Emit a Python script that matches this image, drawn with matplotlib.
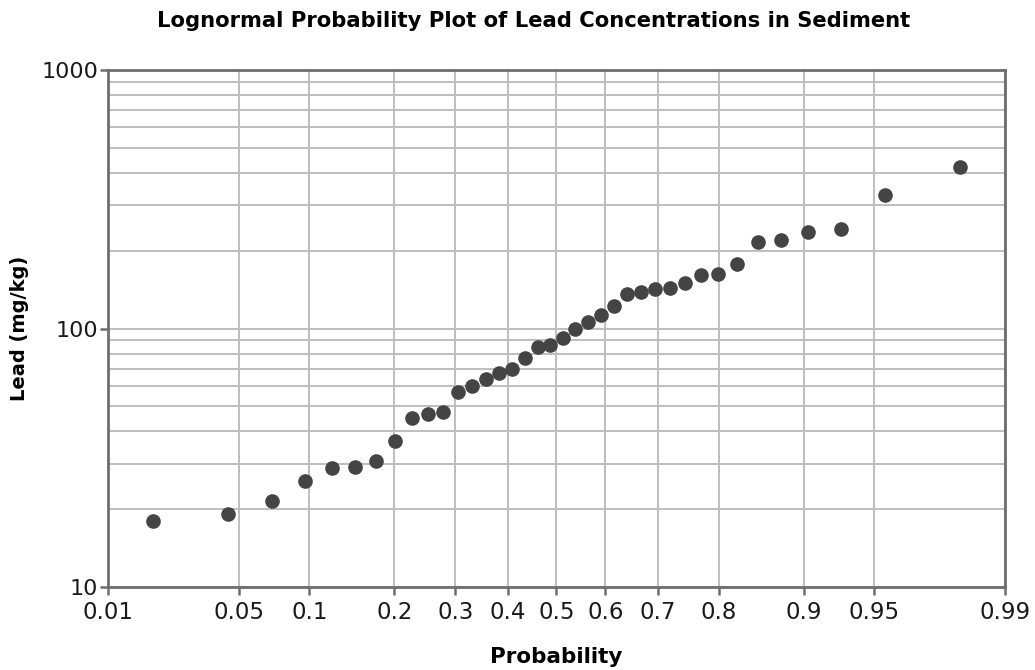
import numpy as np
import matplotlib
matplotlib.use("Agg")
import matplotlib.pyplot as plt
from matplotlib.ticker import FixedLocator, LogLocator, NullFormatter
from statistics import NormalDist

# lead concentrations (mg/kg), sorted
lead = [18.0, 19.2, 21.6, 25.6, 28.8, 29.2, 30.7, 36.8, 45.1, 46.7,
        47.5, 56.7, 60.0, 63.9, 67.2, 69.6, 77.0, 84.9, 86.0, 92.0,
        100.0, 106.1, 112.6, 122.4, 135.8, 138.3, 142.6, 142.9, 150.2, 160.5,
        162.8, 177.0, 215.9, 219.8, 235.4, 243.0, 327.3, 422.5]

prob_ticks = [0.01, 0.05, 0.1, 0.2, 0.3, 0.4, 0.5, 0.6, 0.7, 0.8, 0.9, 0.95, 0.99]
prob_labels = ["0.01", "0.05", "0.1", "0.2", "0.3", "0.4", "0.5", "0.6",
               "0.7", "0.8", "0.9", "0.95", "0.99"]

# median rank plotting positions (Benard)
n = len(lead)
ranks = np.arange(1, n + 1)
prob = (ranks - 0.3) / (n + 0.4)

nd = NormalDist()
_ppf = np.vectorize(lambda p: nd.inv_cdf(min(max(p, 1e-9), 1 - 1e-9)), otypes=[float])
_cdf = np.vectorize(nd.cdf, otypes=[float])


def forward(p):
    return _ppf(np.asarray(p, dtype=float))


def inverse(z):
    return _cdf(np.asarray(z, dtype=float))


fig = plt.figure(figsize=(10.35, 6.7), dpi=100)
ax = fig.add_axes([0.1043, 0.1239, 0.8667, 0.7716])

ax.set_xscale("function", functions=(forward, inverse))
ax.set_yscale("log")
ax.set_xlim(0.01, 0.99)
ax.set_ylim(10, 1000)

ax.xaxis.set_major_locator(FixedLocator(prob_ticks))
ax.set_xticklabels(prob_labels)
ax.xaxis.set_minor_locator(FixedLocator([]))
ax.yaxis.set_major_locator(FixedLocator([10, 100, 1000]))
ax.set_yticklabels(["10", "100", "1000"])
ax.yaxis.set_minor_locator(LogLocator(base=10, subs=np.arange(2, 10)))
ax.yaxis.set_minor_formatter(NullFormatter())

ax.grid(True, which="major", color="#bebebe", linewidth=1.4)
ax.grid(True, which="minor", axis="y", color="#bebebe", linewidth=1.4)
ax.set_axisbelow(True)

ax.plot(prob, lead, "o", color="#444444", markersize=9.5, clip_on=False, zorder=3)

for s in ax.spines.values():
    s.set_color("#6e6e6e")
    s.set_linewidth(2)

ax.tick_params(which="major", length=6, width=1.8, color="#6e6e6e",
               labelsize=16.5, pad=1, labelcolor="#1a1a1a")
ax.tick_params(axis="x", which="major", pad=4)
ax.tick_params(axis="y", which="major", labelsize=16)
ax.tick_params(which="minor", length=0)

ax.set_xlabel("Probability", fontsize=15.5, fontweight="bold", labelpad=17)
ax.set_ylabel("Lead (mg/kg)", fontsize=14, fontweight="bold", labelpad=9)
fig.suptitle("Lognormal Probability Plot of Lead Concentrations in Sediment",
             fontsize=15.2, fontweight="bold", x=0.516, y=0.983)

fig.savefig("out.png", dpi=100)
